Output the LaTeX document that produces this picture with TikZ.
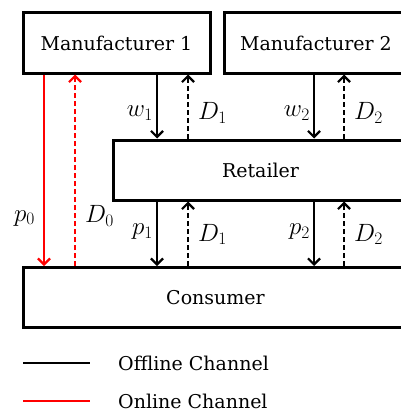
\RequirePackage{fix-cm}
\documentclass[tikz,border=0pt]{standalone}
\usepackage{fontspec}
\setmainfont{DejaVu Serif}
\usepackage{tikz}
\usetikzlibrary{arrows.meta, positioning, calc}
\definecolor{rojo}{RGB}{255, 0, 0}
\tikzset{
    agent/.style={draw, rectangle, line width=3pt, minimum height=60pt, inner sep=0pt,
                  font=\fontsize{19}{22}\selectfont},
    flow/.style={line width=2.2pt, -{Straight Barb[length=6pt, width=12pt, line width=2.2pt]}},
    info/.style={flow, dash pattern=on 5pt off 3pt},
    lab/.style={inner sep=3pt, text=black, font=\fontsize{25}{28}\selectfont},
    labl/.style={lab, left},
    labr/.style={lab, right, xshift=6pt},
    legtxt/.style={anchor=west, inner sep=0pt, font=\fontsize{19}{22}\selectfont},
}

\begin{document}
\begin{tikzpicture}[x=1pt, y=-1pt]
    \useasboundingbox (0,0) rectangle (401,412);

    % the three tiers
    \node [agent, minimum width=187pt] (man1) at (116.5,43) {Manufacturer 1};
    \node [agent, minimum width=184pt] (man2) at (316,43) {Manufacturer 2};
    \node [agent, minimum width=295pt] (ret) at (260.5,170) {Retailer};
    \node [agent, minimum width=385pt] (con) at (215.5,297.5) {Consumer};

    % columns of the arrows
    \coordinate (c0) at (44,0);
    \coordinate (d0) at (75,0);
    \coordinate (c1) at (157,0);
    \coordinate (d1) at (188,0);
    \coordinate (c2) at (314,0);
    \coordinate (d2) at (344,0);

    % online channel
    \draw [flow, rojo] (man1.south -| c0) -- node [labl, xshift=-5pt, pos=0.75] {$p_0$} (con.north -| c0);
    \draw [info, rojo] (con.north -| d0) -- node [labr, pos=0.26] {$D_0$} (man1.south -| d0);

    % offline channel, manufacturers to retailer
    \draw [flow] (man1.south -| c1) -- node [labl, pos=0.6] {$w_1$} (ret.north -| c1);
    \draw [info] (ret.north -| d1) -- node [labr, pos=0.4] {$D_1$} (man1.south -| d1);
    \draw [flow] (man2.south -| c2) -- node [labl, pos=0.6] {$w_2$} (ret.north -| c2);
    \draw [info] (ret.north -| d2) -- node [labr, pos=0.4] {$D_2$} (man2.south -| d2);

    % offline channel, retailer to consumer
    \draw [flow] (ret.south -| c1) -- node [labl, pos=0.47] {$p_1$} (con.north -| c1);
    \draw [info] (con.north -| d1) -- node [labr, pos=0.49] {$D_1$} (ret.south -| d1);
    \draw [flow] (ret.south -| c2) -- node [labl, pos=0.47] {$p_2$} (con.north -| c2);
    \draw [info] (con.north -| d2) -- node [labr, pos=0.49] {$D_2$} (ret.south -| d2);

    % legend
    \coordinate (k1a) at (23,363);
    \coordinate (k1b) at (90,363);
    \coordinate (k2a) at (23,401);
    \coordinate (k2b) at (90,401);
    \draw [line width=2.2pt] (k1a) -- (k1b);
    \draw [line width=2.2pt, rojo] (k2a) -- (k2b);
    \node [legtxt] (off) at (118,363) {Offline Channel};
    \node [legtxt] (on) at (118,401) {Online Channel};
\end{tikzpicture}
\end{document}
